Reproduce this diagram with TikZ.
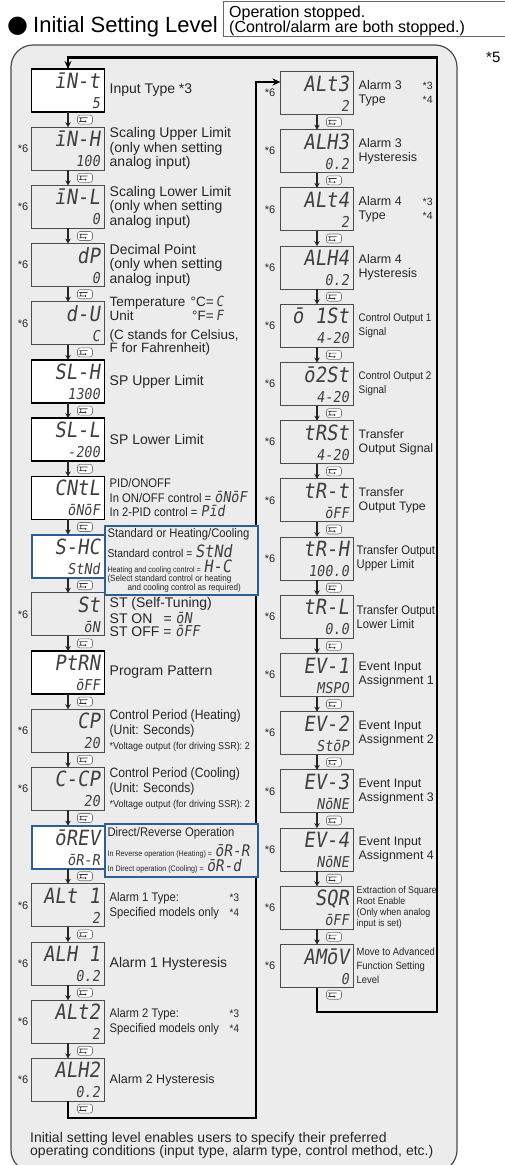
\documentclass[tikz,border=0pt]{standalone}
\usepackage{fontspec}
\setmainfont{Liberation Sans}
\newfontfamily\segfont[FakeSlant=0.15,FakeStretch=0.9]{DejaVu Sans Mono}
\newfontfamily\narrowfont[FakeStretch=0.9]{Liberation Sans}
\newfontfamily\symfont{DejaVu Sans}
\usetikzlibrary{arrows.meta, positioning, calc}

\definecolor{panelgray}{RGB}{236,236,236}
\definecolor{hiblue}{RGB}{45,95,145}

\newcommand{\fsz}[2]{\fontsize{#1}{#2}\selectfont}
\newcommand{\sg}[2][15]{{\segfont\fsz{#1}{#1}\color{black!75}#2}}
\newcommand{\lcd}[2]{\vbox to 36pt{\offinterlineskip
  \hbox to 64pt{\hfil\vrule height16pt depth0pt width0pt\smash{\sg[21]{#1}}}\vskip8pt
  \hbox to 64pt{\hfil\vrule height12pt depth0pt width0pt\smash{\sg[15]{#2}}}\vss}}

\tikzset{
  disp/.style={draw=black!70, line width=1pt, fill=panelgray, minimum width=73pt, minimum height=43pt, inner sep=0pt, outer sep=0pt},
  dispw/.style={disp, draw=black, line width=1.8pt, fill=white},
  dispb/.style={disp, draw=hiblue, line width=2pt, fill=white},
  desc/.style={inner sep=0pt, align=left, text=black!85, font=\fsz{14}{14.5}},
  descn/.style={desc, font=\narrowfont\fsz{12.5}{14}},
  note6/.style={inner sep=0pt, text=black!85, font=\fsz{11}{11}},
  bluebox/.style={draw=hiblue, line width=2pt, fill=panelgray, inner xsep=3pt, inner ysep=0pt, outer sep=0pt, align=left, text=black!85, minimum width=153pt},
  flow/.style={black!85, line width=1.3pt, -{Stealth[length=5pt,width=5.5pt]}},
  loopline/.style={black, line width=2.4pt, -{Stealth[length=8pt,width=7pt]}},
  keyico/.style={draw=black!55, fill=white, rounded corners=2.5pt, line width=0.6pt, minimum width=15pt, minimum height=9pt, inner sep=0pt,
    path picture={\draw[black!80, line width=0.7pt, -{Stealth[length=1.6pt,width=2.4pt]}]
      ($(path picture bounding box.center)+(2.5pt,1.8pt)$) -- ++(-5pt,0pt)
      arc[start angle=90, end angle=270, radius=1.8pt] -- ++(4pt,0pt);}}
}

\begin{document}
\begin{tikzpicture}[x=1pt, y=-1pt]
\useasboundingbox (0,0) rectangle (504,1165);

% heading
\node[anchor=base west, inner sep=0pt, font=\symfont\fsz{24}{24}] (dot) at (7,32) {●};
\node[anchor=base west, inner sep=0pt, font=\fsz{22}{22}] (title) at (33,32.5) {Initial Setting Level};
\draw[black!60, line width=0.9pt] (223,1) rectangle (520,36);
\node[anchor=north west, inner sep=0pt, align=left, font=\fsz{16}{15}] (stop) at (229,6) {Operation stopped.\\(Control/alarm are both stopped.)};
\node[anchor=base west, inner sep=0pt, font=\fsz{15}{15}] (fn5) at (486,62) {*5};

% panel
\draw[black!70, line width=1.2pt, fill=panelgray, rounded corners=22pt] (11,45) rectangle (457,1172);

% left column
\node[dispw] (L1) at (68,90.5) {\lcd{īN-t}{5}};
\node[disp, below=15.2pt of L1] (L2) {\lcd{īN-H}{100}};
\node[disp, below=15.2pt of L2] (L3) {\lcd{īN-L}{0}};
\node[disp, below=15.2pt of L3] (L4) {\lcd{dP}{0}};
\node[disp, below=15.2pt of L4] (L5) {\lcd{d-U}{C}};
\node[dispw, below=15.2pt of L5] (L6) {\lcd{SL-H}{1300}};
\node[dispw, below=15.2pt of L6] (L7) {\lcd{SL-L}{-200}};
\node[dispw, below=15.2pt of L7] (L8) {\lcd{CNtL}{ōNōF}};
\node[dispb, below=15.2pt of L8] (L9) {\lcd{S-HC}{StNd}};
\node[disp, below=15.2pt of L9] (L10) {\lcd{St}{ōN}};
\node[dispw, below=15.2pt of L10] (L11) {\lcd{PtRN}{ōFF}};
\node[disp, below=15.2pt of L11] (L12) {\lcd{CP}{20}};
\node[disp, below=15.2pt of L12] (L13) {\lcd{C-CP}{20}};
\node[dispb, below=15.2pt of L13] (L14) {\lcd{ōREV}{ōR-R}};
\node[disp, below=15.2pt of L14] (L15) {\lcd{ALt 1}{2}};
\node[disp, below=15.2pt of L15] (L16) {\lcd{ALH 1}{0.2}};
\node[disp, below=15.2pt of L16] (L17) {\lcd{ALt2}{2}};
\node[disp, below=15.2pt of L17] (L18) {\lcd{ALH2}{0.2}};

% right column
\node[disp] (R1) at (317,93) {\lcd{ALt3}{2}};
\node[disp, below=15.2pt of R1] (R2) {\lcd{ALH3}{0.2}};
\node[disp, below=15.2pt of R2] (R3) {\lcd{ALt4}{2}};
\node[disp, below=15.2pt of R3] (R4) {\lcd{ALH4}{0.2}};
\node[disp, below=15.2pt of R4] (R5) {\lcd{ō 1St}{4-20}};
\node[disp, below=15.2pt of R5] (R6) {\lcd{ō2St}{4-20}};
\node[disp, below=15.2pt of R6] (R7) {\lcd{tRSt}{4-20}};
\node[disp, below=15.2pt of R7] (R8) {\lcd{tR-t}{ōFF}};
\node[disp, below=15.2pt of R8] (R9) {\lcd{tR-H}{100.0}};
\node[disp, below=15.2pt of R9] (R10) {\lcd{tR-L}{0.0}};
\node[disp, below=15.2pt of R10] (R11) {\lcd{EV-1}{MSPO}};
\node[disp, below=15.2pt of R11] (R12) {\lcd{EV-2}{StōP}};
\node[disp, below=15.2pt of R12] (R13) {\lcd{EV-3}{NōNE}};
\node[disp, below=15.2pt of R13] (R14) {\lcd{EV-4}{NōNE}};
\node[disp, below=15.2pt of R14] (R15) {\lcd{SQR}{ōFF}};
\node[disp, below=15.2pt of R15] (R16) {\lcd{AMōV}{0}};

% return lines
\coordinate (lbot) at (256,1118);
\coordinate (ltop) at (256,82);
\draw[loopline] (L18.south) |- (lbot) -- (ltop) -- (R1.west |- ltop);
\coordinate (rbot) at (437,1012);
\coordinate (rtop) at (437,57.5);
\draw[loopline] (R16.south) |- (rbot) -- (rtop) -| (L1.north);

% steps and keys
\foreach \i [count=\j from 2] in {1,...,17} {
  \draw[flow] (L\i) -- (L\j);
  \node[keyico] (kL\i) at ($(L\i.south)!0.5!(L\j.north)+(17,0)$) {};
}
\foreach \i [count=\j from 2] in {1,...,15} {
  \draw[flow] (R\i) -- (R\j);
  \node[keyico] (kR\i) at ($(R\i.south)!0.5!(R\j.north)+(17,0)$) {};
}
\node[keyico] (kL18) at ($(L18.south)+(17,7.2)$) {};
\node[keyico] (kR16) at ($(R16.south)+(17,7.2)$) {};

\foreach \i in {2,3,4,5,10,12,13,15,16,17,18}
  \node[note6, left=3pt of L\i] (sL\i) {*6};
\foreach \i in {1,...,16}
  \node[note6, left=5pt of R\i] (sR\i) {*6};

% left texts
\node[desc, right=5pt of L1] (dL1) {Input Type *3};
\node[desc, right=5pt of L2] (dL2) {Scaling Upper Limit\\(only when setting\\analog input)};
\node[desc, right=5pt of L3] (dL3) {Scaling Lower Limit\\(only when setting\\analog input)};
\node[desc, right=5pt of L4] (dL4) {Decimal Point\\(only when setting\\analog input)};
\node[desc, font=\fsz{13.5}{13}, right=5pt of L5, yshift=-2pt] (dL5) {\makebox[104pt][l]{Temperature\hfill°C=}\,\sg[14]{C}\\\makebox[104pt][l]{Unit\hfill°F=}\,\sg[14]{F}\\[6pt](C stands for Celsius,\\F for Fahrenheit)};
\node[desc, right=5pt of L6] (dL6) {SP Upper Limit};
\node[desc, right=5pt of L7] (dL7) {SP Lower Limit};
\node[descn, font=\narrowfont\fsz{12.5}{14.5}, right=5pt of L8] (dL8) {PID/ONOFF\\In ON/OFF control = \sg{ōNōF}\\In 2-PID control = \sg{Pīd}};
\node[bluebox, minimum height=69pt, font=\fsz{10}{10}, anchor=north west] (dL9) at ($(L9.north east)+(0,-8.6)$)
  {\makebox[147pt][l]{\narrowfont\fsz{12.5}{12.5}Standard or Heating/Cooling}\\[3pt]
   {\narrowfont\fsz{11.5}{11.5}Standard control =} \sg[17]{StNd}\\[1pt]
   {\narrowfont\fsz{8}{8}Heating and cooling control =} \sg[17]{H-C}\\[-1pt]
   {\narrowfont\fsz{9}{9}(Select standard control or heating}\\[-1pt]
   {\narrowfont\fsz{9}{9}\hspace*{20pt}and cooling control as required)}};
\node[desc, font=\fsz{14}{13.5}, right=5pt of L10, yshift=-3pt] (dL10) {ST (Self-Tuning)\\\makebox[50pt][l]{ST ON} = \sg{ōN}\\ST OFF = \sg{ōFF}};
\node[desc, right=5pt of L11] (dL11) {Program Pattern};
\node[descn, font=\narrowfont\fsz{13.5}{14.5}, right=5pt of L12] (dL12) {Control Period (Heating)\\(Unit: Seconds)\\[1pt]{\fsz{10}{10}*Voltage output (for driving SSR): 2}};
\node[descn, font=\narrowfont\fsz{13.5}{14.5}, right=5pt of L13] (dL13) {Control Period (Cooling)\\(Unit: Seconds)\\[1pt]{\fsz{10}{10}*Voltage output (for driving SSR): 2}};
\node[bluebox, minimum height=53pt, font=\fsz{10}{10}, anchor=north west] (dL14) at ($(L14.north east)+(0,-1.5)$)
  {\makebox[147pt][l]{\narrowfont\fsz{12.5}{12.5}Direct/Reverse Operation}\\[4pt]
   {\narrowfont\fsz{8}{8}In Reverse operation (Heating) =} \sg[16]{ōR-R}\\[1pt]
   {\narrowfont\fsz{8}{8}In Direct operation (Cooling) =} \sg[16]{ōR-d}};
\node[descn, font=\narrowfont\fsz{12.5}{15}, right=5pt of L15] (dL15) {\makebox[120pt][l]{Alarm 1 Type:}{\fsz{11}{11}*3}\\\makebox[120pt][l]{Specified models only}{\fsz{11}{11}*4}};
\node[desc, right=5pt of L16] (dL16) {Alarm 1 Hysteresis};
\node[descn, font=\narrowfont\fsz{12.5}{15}, right=5pt of L17] (dL17) {\makebox[120pt][l]{Alarm 2 Type:}{\fsz{11}{11}*3}\\\makebox[120pt][l]{Specified models only}{\fsz{11}{11}*4}};
\node[desc, font=\fsz{12.5}{12.5}, right=5pt of L18] (dL18) {Alarm 2 Hysteresis};

% right texts
\node[desc, font=\fsz{12.5}{14}, right=5pt of R1] (dR1) {\makebox[64pt][l]{Alarm 3}{\fsz{10.5}{10.5}*3}\\\makebox[64pt][l]{Type}{\fsz{10.5}{10.5}*4}};
\node[desc, font=\fsz{12.5}{14}, right=5pt of R2] (dR2) {Alarm 3\\Hysteresis};
\node[desc, font=\fsz{12.5}{14}, right=5pt of R3] (dR3) {\makebox[64pt][l]{Alarm 4}{\fsz{10.5}{10.5}*3}\\\makebox[64pt][l]{Type}{\fsz{10.5}{10.5}*4}};
\node[desc, font=\fsz{12.5}{14}, right=5pt of R4] (dR4) {Alarm 4\\Hysteresis};
\node[descn, font=\narrowfont\fsz{11}{14}, right=5pt of R5] (dR5) {Control Output 1\\Signal};
\node[descn, font=\narrowfont\fsz{11}{14}, right=5pt of R6] (dR6) {Control Output 2\\Signal};
\node[desc, font=\fsz{12.3}{14}, right=5pt of R7] (dR7) {Transfer\\Output Signal};
\node[desc, font=\fsz{12.3}{14}, right=5pt of R8] (dR8) {Transfer\\Output Type};
\node[descn, font=\narrowfont\fsz{12.5}{14}, right=3pt of R9] (dR9) {Transfer Output\\Upper Limit};
\node[descn, font=\narrowfont\fsz{12.5}{14}, right=3pt of R10] (dR10) {Transfer Output\\Lower Limit};
\node[desc, font=\fsz{12.4}{14}, right=5pt of R11] (dR11) {Event Input\\Assignment 1};
\node[desc, font=\fsz{12.4}{14}, right=5pt of R12] (dR12) {Event Input\\Assignment 2};
\node[desc, font=\fsz{12.4}{14}, right=5pt of R13] (dR13) {Event Input\\Assignment 3};
\node[desc, font=\fsz{12.4}{14}, right=5pt of R14] (dR14) {Event Input\\Assignment 4};
\node[descn, font=\narrowfont\fsz{9.8}{11}, right=3pt of R15] (dR15) {Extraction of Square\\Root Enable\\(Only when analog\\input is set)};
\node[descn, font=\narrowfont\fsz{10.5}{14}, right=3pt of R16] (dR16) {Move to Advanced\\Function Setting\\Level};

% footnote
\node[anchor=north west, inner sep=0pt, align=left, text=black!85, font=\fsz{14}{13.5}] (foot) at (30,1132) {Initial setting level enables users to specify their preferred\\operating conditions (input type, alarm type, control method, etc.)};
\end{tikzpicture}
\end{document}
